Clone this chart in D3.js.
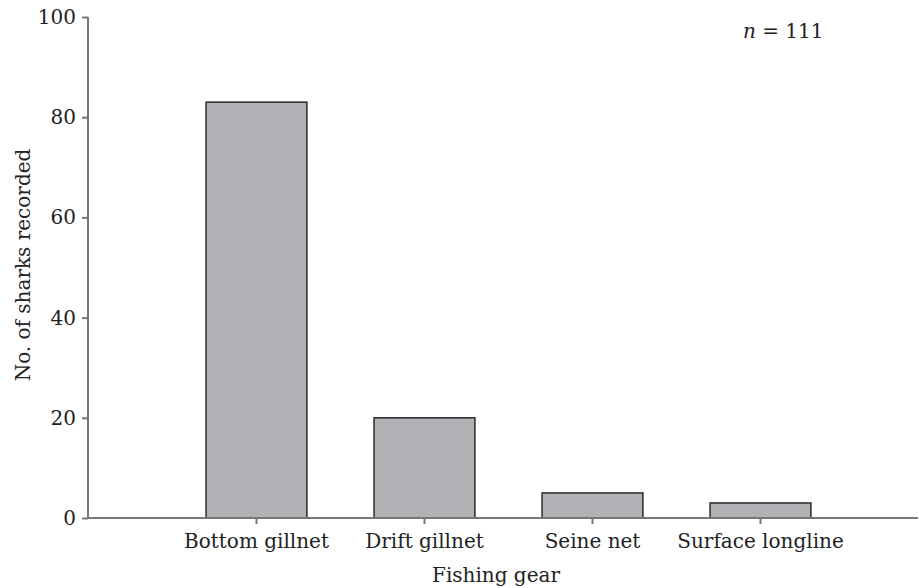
<!DOCTYPE html>
<html>
<head>
<meta charset="utf-8">
<script src="https://cdn.jsdelivr.net/npm/d3@7"></script>
<style>
  html, body { margin: 0; padding: 0; background: #fff; }
  svg text { font-family: "DejaVu Serif", "Liberation Serif", serif; fill: #222; }
</style>
</head>
<body>
<svg id="chart" width="919" height="588"></svg>
<script>
const categories = ["Bottom gillnet", "Drift gillnet", "Seine net", "Surface longline"];
const counts = [83, 20, 5, 3];
const yTicks = [0, 20, 40, 60, 80, 100];
const nLabel = "111";

const svg = d3.select("#chart");
const axisLeftX = 88, axisRightX = 918;
const yTop = 17, yBottom = 518;

const x = d3.scaleBand()
  .domain(categories)
  .range([172.5, 844.5])
  .paddingInner(0.4)
  .paddingOuter(0.2);

const y = d3.scaleLinear().domain([0, 100]).range([yBottom, yTop]);

// bars
svg.append("g").selectAll("rect")
  .data(categories.map((c, i) => ({c, v: counts[i]})))
  .join("rect")
  .attr("x", d => x(d.c))
  .attr("y", d => y(d.v))
  .attr("width", x.bandwidth())
  .attr("height", d => y(0) - y(d.v))
  .attr("fill", "#b1b2b6")
  .attr("stroke", "#333")
  .attr("stroke-width", 1.6);

// y axis
const yAxis = svg.append("g")
  .attr("transform", `translate(${axisLeftX},0)`)
  .call(d3.axisLeft(y).tickValues(yTicks).tickSize(6).tickPadding(6).tickFormat(d3.format("d")));
yAxis.select(".domain").attr("d", `M0,${yTop}H0V${yBottom}`);
yAxis.selectAll("path, line").attr("stroke", "#777").attr("stroke-width", 2);
yAxis.selectAll("text").attr("font-size", 20).attr("font-family", "DejaVu Serif").attr("fill", "#222");

// x axis
const xAxis = svg.append("g")
  .attr("transform", `translate(0,${yBottom})`)
  .call(d3.axisBottom(x).tickSize(6).tickPadding(10));
xAxis.select(".domain").attr("d", `M${axisLeftX},0H${axisRightX}`);
xAxis.selectAll("path, line").attr("stroke", "#777").attr("stroke-width", 2);
xAxis.selectAll("text").attr("font-size", 20).attr("font-family", "DejaVu Serif").attr("fill", "#222");

// axis titles
svg.append("text")
  .attr("x", 496).attr("y", 582)
  .attr("text-anchor", "middle")
  .attr("font-size", 20)
  .text("Fishing gear");

svg.append("text")
  .attr("transform", "translate(30,265) rotate(-90)")
  .attr("text-anchor", "middle")
  .attr("font-size", 20)
  .text("No. of sharks recorded");

// n label
const nt = svg.append("text").attr("x", 743).attr("y", 38).attr("font-size", 20);
nt.append("tspan").attr("font-style", "italic").text("n");
nt.append("tspan").text(" = " + nLabel);
</script>
</body>
</html>
